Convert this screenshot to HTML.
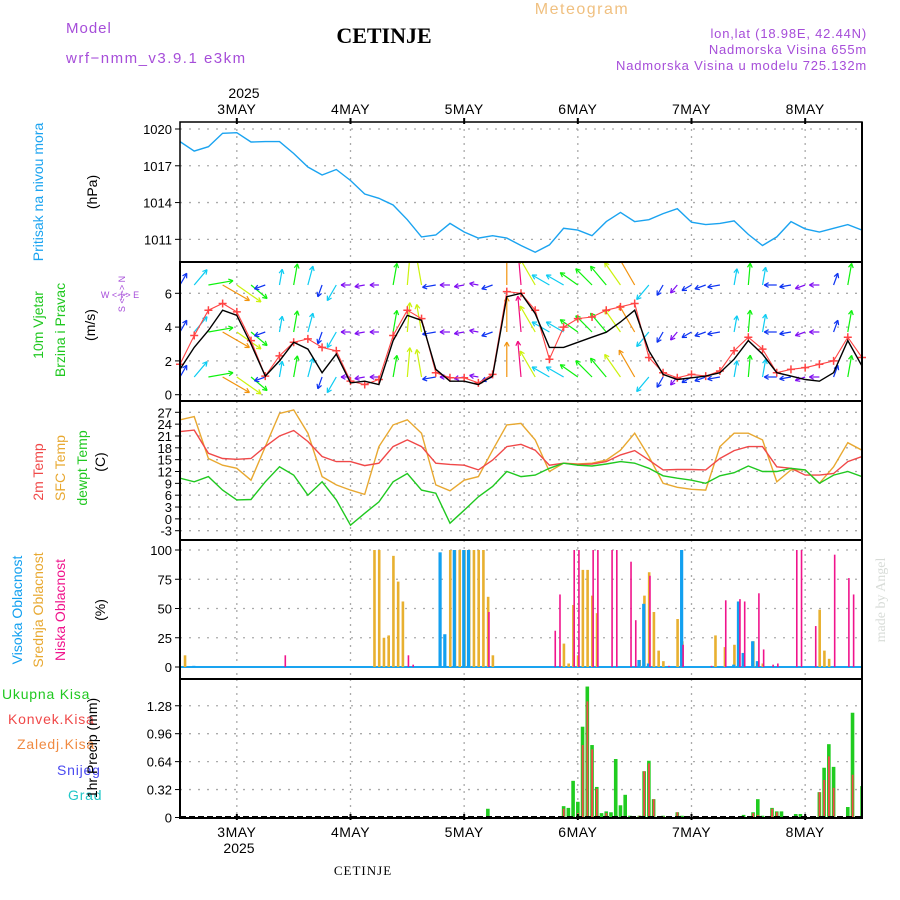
<!DOCTYPE html>
<html><head><meta charset="utf-8"><style>
html,body{margin:0;padding:0;background:#fff;}
svg{display:block;font-family:"Liberation Sans",sans-serif;}
</style></head><body>
<svg id="chart" width="900" height="900" viewBox="0 0 900 900">
<rect width="900" height="900" fill="#fff"/>
<text x="66" y="33" font-size="15" fill="#a64dd9" letter-spacing="1">Model</text>
<text x="66" y="63" font-size="15" fill="#a64dd9" letter-spacing="1.5">wrf−nmm_v3.9.1 e3km</text>
<text x="384" y="43" font-size="22" font-weight="bold" font-family="Liberation Serif,serif" text-anchor="middle" fill="#000">CETINJE</text>
<text x="582" y="14" font-size="16" text-anchor="middle" fill="#f0c080" letter-spacing="1.5">Meteogram</text>
<text x="867" y="38" font-size="13" text-anchor="end" fill="#a64dd9" letter-spacing="0.8">lon,lat (18.98E, 42.44N)</text>
<text x="867" y="54" font-size="13" text-anchor="end" fill="#a64dd9" letter-spacing="0.8">Nadmorska Visina 655m</text>
<text x="867" y="70" font-size="13" text-anchor="end" fill="#a64dd9" letter-spacing="0.8">Nadmorska Visina u modelu 725.132m</text>
<g id="grid"></g><g id="marks"></g><g id="frames"></g><g id="labels"></g>
</svg>
<script>
const hours=[0,3,6,9,12,15,18,21,24,27,30,33,36,39,42,45,48,51,54,57,60,63,66,69,72,75,78,81,84,87,90,93,96,99,102,105,108,111,114,117,120,123,126,129,132,135,138,141,144];
const pressure=[1018.97,1018.2,1018.56,1019.65,1019.7,1018.94,1018.97,1018.97,1018.0,1016.9,1016.25,1016.7,1015.8,1014.7,1014.35,1013.8,1012.6,1011.2,1011.35,1012.3,1011.6,1011.1,1011.3,1011.1,1010.5,1009.95,1010.55,1011.9,1011.75,1011.3,1012.45,1013.2,1012.45,1012.6,1013.1,1013.5,1012.4,1012.2,1012.3,1012.5,1011.4,1010.5,1011.2,1012.45,1011.85,1011.6,1011.9,1012.2,1011.75];
const temp2m=[22.1,22.5,16.6,15.3,15.1,15.3,18.3,21.0,22.4,19.6,15.8,14.5,14.5,13.5,14.1,18.3,20.0,18.3,14.1,13.8,13.6,12.4,14.9,18.3,18.9,17.4,13.6,14.1,13.8,13.9,14.5,16.2,17.3,14.9,12.4,12.5,12.5,12.4,15.3,17.3,18.3,18.3,13.2,12.8,11.1,11.1,11.5,14.5,15.8];
const tempSfc=[25.1,25.9,15.3,13.6,12.8,9.8,18.3,26.7,27.6,21.7,10.7,8.6,7.3,6.2,18.3,23.8,25.1,21.7,8.6,7.1,9.8,10.7,17.4,23.8,24.2,20.0,12.0,14.1,13.9,14.1,14.9,17.4,21.7,15.8,9.0,8.0,7.5,7.3,18.3,21.7,21.7,20.0,9.4,12.4,12.4,9.0,13.2,19.3,17.4];
const dewpt=[10.3,9.4,10.7,7.3,4.8,4.9,9.4,13.2,11.1,6.0,9.4,4.8,-1.6,1.4,4.3,9.4,11.5,7.3,6.5,-1.1,2.2,5.6,8.2,12.0,10.7,11.1,12.8,14.1,13.6,13.4,13.9,14.5,14.1,12.8,10.9,10.3,9.8,9.0,10.9,11.7,13.4,12.0,12.0,12.8,12.4,9.0,11.1,12.0,10.7];
const windSpeed=[1.5,2.8,3.8,5.0,4.7,3.0,1.1,2.0,3.1,2.7,1.3,2.4,0.7,0.8,0.6,3.2,4.7,4.4,1.5,0.8,0.8,0.6,1.1,5.8,6.0,4.8,2.8,2.8,3.1,3.4,3.7,4.3,5.0,2.6,1.2,0.9,1.0,1.1,1.3,2.1,3.2,2.4,1.3,1.1,0.9,0.8,1.3,3.2,1.7];
const windGust=[1.8,3.5,5.0,5.4,4.9,3.2,1.1,2.3,3.1,3.3,2.8,2.6,0.8,0.6,0.9,3.5,5.0,4.5,1.3,1.0,1.0,0.7,1.2,6.1,6.0,5.0,2.1,4.0,4.5,4.6,5.0,5.2,5.4,2.2,1.3,1.0,1.2,1.1,1.4,2.6,3.4,2.7,1.3,1.5,1.6,1.8,2.0,3.4,2.2];
const windDir=[30,40,80,120,125,130,250,10,10,15,200,210,270,260,270,10,5,350,260,270,260,280,250,0,355,330,300,300,305,315,320,325,330,220,210,220,240,250,260,10,5,10,270,260,250,270,20,10,15];
const highHours=[3,55,56,58,60,61,97,98,99,106,117,118,119,121,122];
const highVals=[1,98,28,100,100,100,6,54,3,100,2,56,12,22,5];
const midHours=[1,41,42,43,44,45,46,47,57,58,59,60,61,62,63,64,65,66,81,82,83,84,85,86,87,88,97,98,99,100,101,102,105,106,113,115,117,118,119,121,123,135,136,137];
const midVals=[10,100,100,25,27,95,73,56,100,100,100,100,100,100,100,100,60,10,20,3,53,10,83,83,61,46,6,61,81,47,14,5,41,22,27,17,19,56,12,22,3,49,14,7];
const lowHours=[22,48,49,65,79,80,83,84,87,88,91,92,95,96,99,103,106,112,115,118,119,122,123,125,126,130,131,134,138,141,142];
const lowVals=[10,10,2,47,31,62,100,100,100,100,100,100,90,40,78,1,19,1,57,58,56,63,15,2,3,100,100,35,96,76,62];
const precipHours=[65,81,82,83,84,85,86,87,88,89,90,91,92,93,94,95,97,98,99,100,101,102,105,106,119,121,122,123,125,126,127,130,131,135,136,137,138,141,142,144];
const precipTotal=[0.1,0.13,0.11,0.42,0.18,1.04,1.5,0.83,0.35,0.05,0.07,0.06,0.67,0.14,0.26,0.02,0.02,0.53,0.65,0.21,0.01,0.02,0.06,0.02,0.03,0.06,0.21,0.02,0.11,0.07,0.07,0.04,0.04,0.29,0.57,0.84,0.58,0.12,1.2,0.36];
const precipConv=[0,0.1,0,0,0.05,0.83,1.33,0.78,0.33,0,0.05,0,0,0,0,0,0.02,0.53,0.62,0.21,0,0.01,0.06,0,0,0.05,0.03,0,0.1,0.06,0,0,0,0.29,0.43,0.70,0.34,0,0.49,0.29];
const pTicks=[1020,1017,1014,1011];
const wTicks=[0,2,4,6];
const tTicks=[27,24,21,18,15,12,9,6,3,0,-3];
const cTicks=[0,25,50,75,100];
const rTicks=[0,0.32,0.64,0.96,1.28];
const dayLabels=['3MAY','4MAY','5MAY','6MAY','7MAY','8MAY'];
const dayHours=[12,36,60,84,108,132];

const NS='http://www.w3.org/2000/svg';
const X0=180,X1=862;
const xs=h=>X0+h*(X1-X0)/144;
const yP=p=>129+(1020-p)*12.26;
const yW=s=>394.7-s*16.9;
const yT=t=>412.3+(27-t)*3.947;
const yC=c=>667-c*1.17;
const yR=r=>817.5-r*87.3;
const panels=[[122,262],[262,401],[401,540],[540,679],[679,818]];
function mk(tag,attrs,parent){const e=document.createElementNS(NS,tag);for(const k in attrs)e.setAttribute(k,attrs[k]);parent.appendChild(e);return e;}
const grid=document.getElementById('grid'),marks=document.getElementById('marks'),frames=document.getElementById('frames'),labels=document.getElementById('labels');
const defs=mk('defs',{},grid);
panels.forEach((p,i)=>{const cp=mk('clipPath',{id:'cp'+i},defs);mk('rect',{x:X0,y:p[0],width:X1-X0,height:p[1]-p[0]},cp);});
// vertical day grid
dayHours.forEach(h=>{panels.forEach(p=>{const l=mk('line',{x1:xs(h),x2:xs(h),y1:p[0],y2:p[1],stroke:'#aaa','stroke-width':1.3,'stroke-dasharray':'2,5'},grid);

});});
function hgrid(ticks,f,fmt,name){ticks.forEach(t=>{const y=f(t);const l=mk('line',{x1:X0,x2:X1,y1:y,y2:y,stroke:'#aaa','stroke-width':1.3,'stroke-dasharray':'2,7'},grid);


mk('line',{x1:X0-5,x2:X0,y1:y,y2:y,stroke:'#000'},frames);
const tx=mk('text',{x:X0-8,y:y+5,'font-size':13,'text-anchor':'end',fill:'#000'},labels);tx.textContent=fmt(t);

});}
hgrid(pTicks,yP,t=>t,'pressure');hgrid(wTicks,yW,t=>t,'wind');hgrid(tTicks,yT,t=>t,'temperature');hgrid(cTicks,yC,t=>t,'cloud');hgrid(rTicks,yR,t=>t===0?'0':t.toFixed(2),'precip');
function line(vals,f,color,name,clip,w){const g=mk('g',{'clip-path':'url(#'+clip+')'},marks);const d=vals.map((v,i)=>(i?'L':'M')+xs(hours[i]).toFixed(1)+','+f(v).toFixed(1)).join('');
const pth=mk('path',{d:d,fill:'none',stroke:color,'stroke-width':w||1.4},g);

return g;}
line(pressure,yP,'#1aa3f0','pressure-line','cp0');
// wind arrows
const wg=mk('g',{'clip-path':'url(#cp1)'},marks);
const hueFor=s=>{const hs=[270,230,190,120,70,35,330];const i=Math.min(6,Math.floor(s));return hs[i];};
[285,332,377].forEach(by=>{windSpeed.forEach((s,i)=>{const x=xs(hours[i]);const a=windDir[i]*Math.PI/180;const L=6+s*5;const ex=x+Math.sin(a)*L,ey=by-Math.cos(a)*L;const c='hsl('+hueFor(s)+',90%,50%)';
const ag=mk('g',{stroke:c,'stroke-width':1.2,fill:'none'},wg);


mk('line',{x1:x,y1:by,x2:ex,y2:ey},ag);
const ha=0.5,hl=5;const bx=Math.sin(a),byy=-Math.cos(a);
[1,-1].forEach(sg=>{const ang=Math.atan2(byy,bx)+Math.PI+sg*ha;mk('line',{x1:ex,y1:ey,x2:ex+Math.cos(ang)*hl,y2:ey+Math.sin(ang)*hl},ag);});});});
line(windGust,yW,'#f44','wind-gust-line','cp1',1.1);
windGust.forEach((g,i)=>{const x=xs(hours[i]),y=yW(g);const p=mk('path',{d:`M${x-4},${y}H${x+4}M${x},${y-4}V${y+4}`,stroke:'#f44','stroke-width':1.5},marks);

});
line(windSpeed,yW,'#000','wind-speed-line','cp1',1.4);
line(tempSfc,yT,'#e8a830','sfc-temp-line','cp2');
line(temp2m,yT,'#f04848','2m-temp-line','cp2');
line(dewpt,yT,'#20c820','dewpoint-line','cp2');
// cloud bars
function bars(hs,vs,f,color,off,w,name,clip){const g=mk('g',{'clip-path':'url(#'+clip+')'},marks);hs.forEach((h,i)=>{const y=f(vs[i]);const r=mk('rect',{x:xs(h)+off,y:y,width:w,height:Math.max(0,f(0)-y),fill:color},g);

});}
mk('line',{x1:X0,x2:X1,y1:yC(0),y2:yC(0),stroke:'#1aa3f0','stroke-width':2},marks);
bars(midHours,midVals,yC,'#e8b030',-1,2.6,'mid-cloud-bar','cp3');
bars(highHours,highVals,yC,'#12a0f0',-2,3.2,'high-cloud-bar','cp3');
bars(lowHours,lowVals,yC,'#f0148c',0.3,1.6,'low-cloud-bar','cp3');
bars(precipHours,precipTotal,yR,'#20cc20',-1.8,3.6,'total-precip-bar','cp4');
bars(precipHours,precipConv,yR,'#f44848',-0.8,1.8,'convective-precip-bar','cp4');
mk('line',{x1:X0,x2:X1,y1:817,y2:817,stroke:'#000','stroke-width':2,'stroke-dasharray':'6,3'},marks);
// frames
panels.forEach((p,i)=>{const r=mk('rect',{x:X0,y:p[0],width:X1-X0,height:p[1]-p[0],fill:'none',stroke:'#000','stroke-width':i===0?1.5:2},frames);

});
mk('line',{x1:X1,x2:X1,y1:122,y2:818,stroke:'#000','stroke-width':2},frames);
dayHours.forEach((h,i)=>{const x=xs(h);mk('line',{x1:x,x2:x,y1:118,y2:124,stroke:'#000','stroke-width':2},frames);mk('line',{x1:x,x2:x,y1:814,y2:820,stroke:'#000','stroke-width':2},frames);
const t=mk('text',{x:x,y:114,'font-size':14,'text-anchor':'middle',fill:'#000','letter-spacing':'0.5'},labels);t.textContent=dayLabels[i];


const b=mk('text',{x:x,y:837,'font-size':14,'text-anchor':'middle',fill:'#000','letter-spacing':'0.5'},labels);b.textContent=dayLabels[i];

});
</script>
<svg width="0" height="0"></svg>
<div style="position:absolute;left:0;top:0;width:900px;height:900px;pointer-events:none">
<svg width="900" height="900" style="font-family:'Liberation Sans',sans-serif">
<text x="244" y="98" font-size="14" text-anchor="middle">2025</text>
<text x="239" y="853" font-size="14" text-anchor="middle">2025</text>
<text x="363" y="875" font-size="13" text-anchor="middle" font-family="Liberation Serif,serif" letter-spacing="1">CETINJE</text>
<text transform="translate(43,192) rotate(-90)" font-size="14" fill="#1aa3f0" text-anchor="middle">Pritisak na nivou mora</text>
<text transform="translate(97,192) rotate(-90)" font-size="14" text-anchor="middle">(hPa)</text>
<text transform="translate(43,325) rotate(-90)" font-size="14" fill="#20c820" text-anchor="middle">10m Vjetar</text>
<text transform="translate(65,330) rotate(-90)" font-size="14" fill="#20c820" text-anchor="middle">Brzina i Pravac</text>
<text transform="translate(95,325) rotate(-90)" font-size="14" text-anchor="middle">(m/s)</text>
<text transform="translate(125,294) rotate(-90)" font-size="9" fill="#a64dd9" text-anchor="middle">S &lt;-|-&gt; N</text>
<text x="120" y="298" font-size="9" fill="#a64dd9" text-anchor="middle">W &lt;-|-&gt; E</text>
<text transform="translate(43,472) rotate(-90)" font-size="14" fill="#f04848" text-anchor="middle">2m Temp</text>
<text transform="translate(65,468) rotate(-90)" font-size="14" fill="#e8a830" text-anchor="middle">SFC Temp</text>
<text transform="translate(87,468) rotate(-90)" font-size="14" fill="#20c820" text-anchor="middle">dewpt Temp</text>
<text transform="translate(105,462) rotate(-90)" font-size="14" text-anchor="middle">(C)</text>
<text transform="translate(22,610) rotate(-90)" font-size="14" fill="#12a0f0" text-anchor="middle">Visoka Oblacnost</text>
<text transform="translate(43,610) rotate(-90)" font-size="14" fill="#e8a830" text-anchor="middle">Srednja Oblacnost</text>
<text transform="translate(65,610) rotate(-90)" font-size="14" fill="#f0148c" text-anchor="middle">Niska Oblacnost</text>
<text transform="translate(105,610) rotate(-90)" font-size="14" text-anchor="middle">(%)</text>
<text x="2" y="699" font-size="14" fill="#20c820" letter-spacing="0.8">Ukupna Kisa</text>
<text x="8" y="724" font-size="14" fill="#f04848" letter-spacing="0.8">Konvek.Kisa</text>
<text x="17" y="749" font-size="14" fill="#f08a40" letter-spacing="0.8">Zaledj.Kisa</text>
<text x="57" y="775" font-size="14" fill="#4a4af0" letter-spacing="0.8">Snijeg</text>
<text x="68" y="800" font-size="14" fill="#20c8c8" letter-spacing="0.8">Grad</text>
<text transform="translate(97,748) rotate(-90)" font-size="14" text-anchor="middle">1hr Precip (mm)</text>
<text transform="translate(885,600) rotate(-90)" font-size="14" fill="#d8dcd8" text-anchor="middle" font-family="Liberation Serif,serif">made by Angel</text>
</svg></div>
</body></html>
